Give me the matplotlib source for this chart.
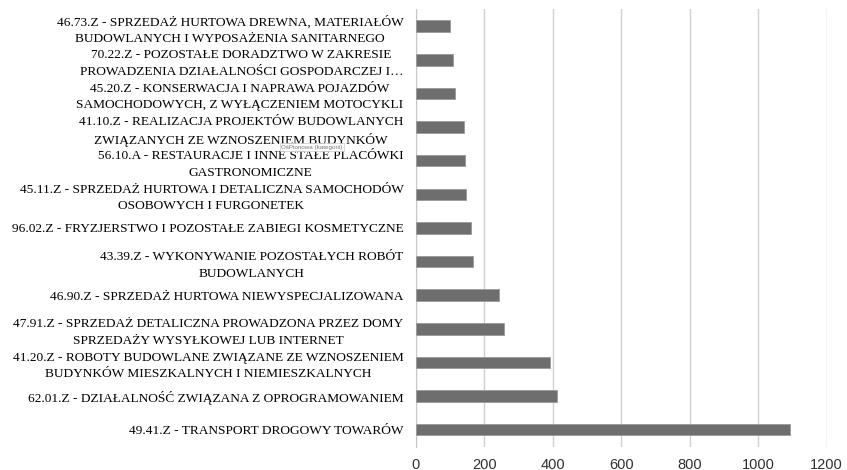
import matplotlib
matplotlib.use("Agg")
import matplotlib.pyplot as plt

# categories listed bottom to top, as drawn
categories = [
    "49.41.Z - TRANSPORT DROGOWY TOWARÓW",
    "62.01.Z - DZIAŁALNOŚĆ ZWIĄZANA Z OPROGRAMOWANIEM",
    "41.20.Z - ROBOTY BUDOWLANE ZWIĄZANE ZE WZNOSZENIEM\nBUDYNKÓW MIESZKALNYCH I NIEMIESZKALNYCH",
    "47.91.Z - SPRZEDAŻ DETALICZNA PROWADZONA PRZEZ DOMY\nSPRZEDAŻY WYSYŁKOWEJ LUB INTERNET",
    "46.90.Z - SPRZEDAŻ HURTOWA NIEWYSPECJALIZOWANA",
    "43.39.Z - WYKONYWANIE POZOSTAŁYCH ROBÓT\nBUDOWLANYCH",
    "96.02.Z - FRYZJERSTWO I POZOSTAŁE ZABIEGI KOSMETYCZNE",
    "45.11.Z - SPRZEDAŻ HURTOWA I DETALICZNA SAMOCHODÓW\nOSOBOWYCH I FURGONETEK",
    "56.10.A - RESTAURACJE I INNE STAŁE PLACÓWKI\nGASTRONOMICZNE",
    "41.10.Z - REALIZACJA PROJEKTÓW BUDOWLANYCH\nZWIĄZANYCH ZE WZNOSZENIEM BUDYNKÓW",
    "45.20.Z - KONSERWACJA I NAPRAWA POJAZDÓW\nSAMOCHODOWYCH, Z WYŁĄCZENIEM MOTOCYKLI",
    "70.22.Z - POZOSTAŁE DORADZTWO W ZAKRESIE\nPROWADZENIA DZIAŁALNOŚCI GOSPODARCZEJ I…",
    "46.73.Z - SPRZEDAŻ HURTOWA DREWNA, MATERIAŁÓW\nBUDOWLANYCH I WYPOSAŻENIA SANITARNEGO",
]
counts = [1092, 411, 392, 256, 243, 168, 160, 147, 143, 141, 114, 109, 100]
xticks = [0, 200, 400, 600, 800, 1000, 1200]

fig = plt.figure(figsize=(8.47, 4.70), dpi=100)
ax = fig.add_axes([0.491, 0.050, 0.485, 0.930])

pos = list(range(len(categories)))
ax.barh(pos, counts, height=0.34, color="#6e6e6e", edgecolor="#9a9a9a",
        linewidth=0.6, zorder=3)

ax.set_xlim(0, 1200)
ax.set_ylim(-0.5, len(categories) - 0.5)
ax.set_xticks(xticks)
ax.set_xticklabels([str(t) for t in xticks], family="Liberation Sans",
                   fontsize=10.5, color="#303030")
ax.set_yticks(pos)
ax.set_yticklabels(categories, family="Liberation Serif", fontsize=9.6)
for lab in ax.get_yticklabels():
    lab.set_multialignment("center")
    lab.set_linespacing(1.5)

ax.xaxis.grid(True, color="#cfcfcf", linewidth=1.0, zorder=0)
for side in ("top", "right", "bottom"):
    ax.spines[side].set_visible(False)
ax.spines["left"].set_color("#c8c8c8")
ax.tick_params(axis="y", length=0, pad=9)
ax.tick_params(axis="x", length=0, pad=8)

# leftover tooltip from the source screenshot
fig.text(312 / 847, 1 - 147 / 470, "OśPionowa (kategorii)", fontsize=4.5,
         family="Liberation Sans", color="#777777", ha="center", va="center",
         bbox=dict(boxstyle="square,pad=0.2", fc="white", ec="#cccccc", lw=0.5),
         zorder=10)

fig.savefig("out.png", dpi=100, facecolor="white")
